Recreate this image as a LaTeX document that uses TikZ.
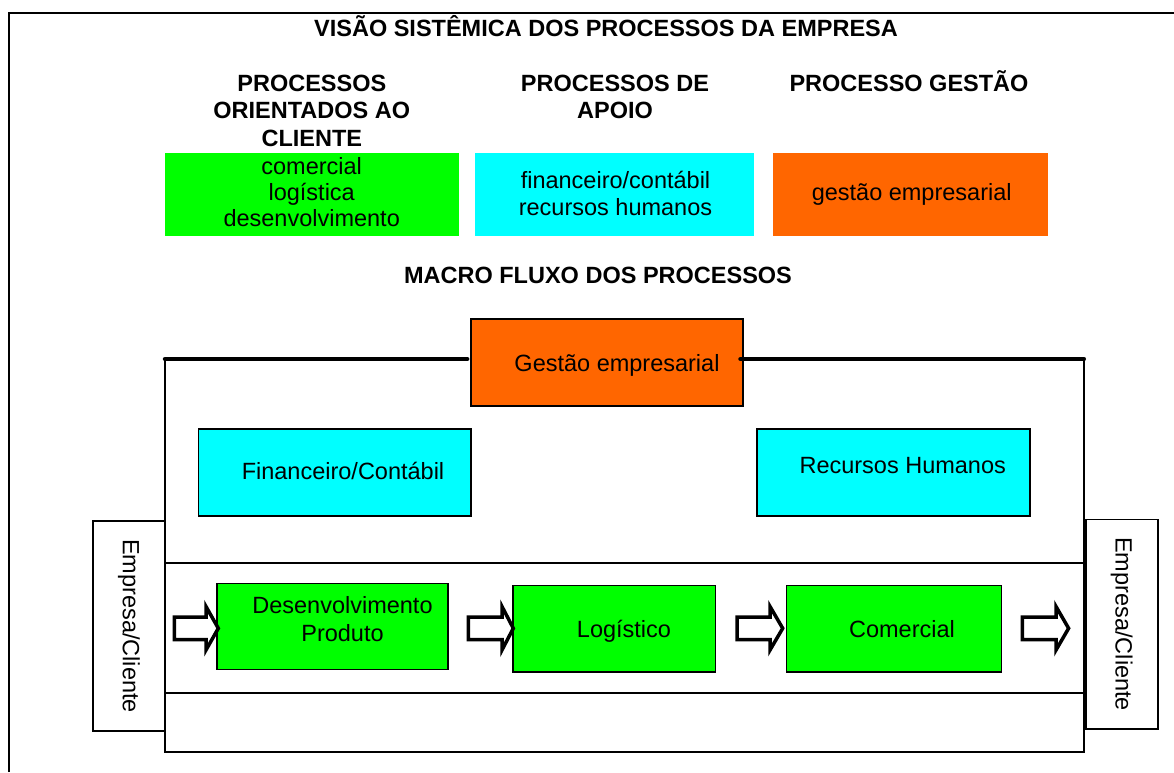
\documentclass[tikz,border=0pt]{standalone}
\usepackage{fontspec}
\setmainfont{Liberation Sans}
\newcommand\fsz{\fontsize{23.5}{27.2}\selectfont}
\newcommand\fszb{\fontsize{23.5}{26.2}\selectfont}
\definecolor{pgreen}{HTML}{00FF00}
\definecolor{pcyan}{HTML}{00FFFF}
\definecolor{porange}{HTML}{FF6600}
\begin{document}
\begin{tikzpicture}[x=1pt,y=-1pt,
  hdr/.style={font=\bfseries\fsz,align=center,inner sep=0pt,anchor=base},
  txt/.style={font=\fszb,align=center,inner sep=0pt,anchor=base},
  topbox/.style={draw=none,inner sep=0pt},
  pbox/.style={draw=black,line width=1.6pt,inner sep=0pt},
  ecbox/.style={draw=black,line width=1.6pt,fill=white,inner sep=0pt,rotate=-90,font=\fsz},
  frameline/.style={line width=1.8pt},
  heavyline/.style={line width=4.5pt,line cap=round},
  barrow/.style={draw=black,fill=white,line width=3.5pt,line join=miter}]
\useasboundingbox (0,0) rectangle (1174,772);
% outer frame
\coordinate (o1) at (9,772);
\coordinate (o2) at (9,13);
\coordinate (o3) at (1174,13);
\draw[line width=2pt] (o1) -- (o2) -- (o3);

% titles (base anchor = baseline of the last line)
\node[hdr] (title) at (606,36.7) {VISÃO SISTÊMICA DOS PROCESSOS DA EMPRESA};
\node[hdr] (h1) at (311.8,146) {PROCESSOS\\ORIENTADOS AO\\CLIENTE};
\node[hdr] (h2) at (615,118.3) {PROCESSOS DE\\APOIO};
\node[hdr] (h3) at (909,91.7) {PROCESSO GESTÃO};

% top coloured boxes
\node[topbox,fill=pgreen,minimum width=294pt,minimum height=83pt] (g1) at (312,194.2) {};
\node[topbox,fill=pcyan,minimum width=279pt,minimum height=83pt] (c1) at (614.5,194.2) {};
\node[topbox,fill=porange,minimum width=274.4pt,minimum height=83pt] (r1) at (910.5,194.2) {};
\node[txt] (t1) at (311.7,226.7) {comercial\\logística\\desenvolvimento};
\node[txt] (t2) at (615.5,215) {financeiro/contábil\\recursos humanos};
\node[txt] (t3) at (911.7,200) {gestão empresarial};

\node[hdr] (macro) at (598,283.3) {MACRO FLUXO DOS PROCESSOS};

% macro flow frame
\coordinate (tl) at (165,359);
\coordinate (tr) at (1083.8,359);
\coordinate (bl) at (165,751.7);
\coordinate (br) at (1083.8,751.7);
\coordinate (m1l) at (165,562.7);
\coordinate (m1r) at (1083.8,562.7);
\coordinate (m2l) at (165,693.3);
\coordinate (m2r) at (1083.8,693.3);
\draw[frameline] (tl) -- (bl) -- (br) -- (tr);
\draw[frameline] (m1l) -- (m1r);
\draw[frameline] (m2l) -- (m2r);

\node[pbox,fill=porange,minimum width=271.7pt,minimum height=86.7pt] (gest) at (606.85,362.35) {};
\node[txt] (gestt) at (617,371.7) {Gestão empresarial};
\draw[heavyline] (tl) -- ([xshift=-3pt]tl -| gest.west);
\draw[heavyline] ([xshift=-3pt]tr -| gest.east) -- (tr);

\node[pbox,fill=pcyan,minimum width=272.5pt,minimum height=86.7pt] (fin) at (334.75,472.35) {};
\node[txt] (fint) at (343,479.3) {Financeiro/Contábil};
\node[pbox,fill=pcyan,minimum width=273pt,minimum height=86.7pt] (rh) at (893.5,472.35) {};
\node[txt] (rht) at (902.7,473.3) {Recursos Humanos};

\node[pbox,fill=pgreen,minimum width=231pt,minimum height=86pt] (dev) at (332.2,626.3) {};
\node[txt,font=\fontsize{23.5}{28.4}\selectfont] (devt) at (342.5,641.7) {Desenvolvimento\\Produto};
\node[pbox,fill=pgreen,minimum width=202.9pt,minimum height=86.4pt] (log) at (614.15,628.5) {};
\node[txt] (logt) at (624,637.7) {Logístico};
\node[pbox,fill=pgreen,minimum width=215.2pt,minimum height=86.4pt] (com) at (894,628.5) {};
\node[txt] (comt) at (902,637.7) {Comercial};

\node[ecbox,minimum width=210pt,minimum height=72.3pt] (ecL) at (128.85,626) {Empresa/Cliente};
\node[ecbox,minimum width=209.7pt,minimum height=72pt] (ecR) at (1121.7,624.15) {Empresa/Cliente};

% block arrows
\newcommand\blkarrow[3]{%
  \draw[barrow] (#1,617) -- (#2,617) -- (#2,606.5) -- (#3,628.3) -- (#2,650) -- (#2,639.5) -- (#1,639.5) -- cycle;}
\blkarrow{174.3}{206}{218.3}
\blkarrow{468.3}{502}{513.3}
\blkarrow{737.2}{770}{782.7}
\blkarrow{1022.4}{1056}{1068.6}
\end{tikzpicture}
\end{document}
